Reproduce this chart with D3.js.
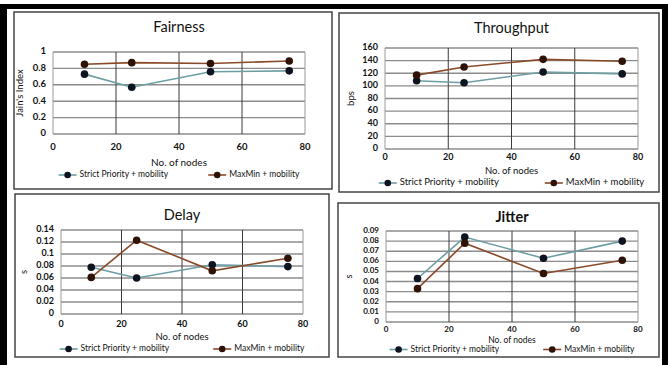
<!DOCTYPE html>
<html>
<head>
<meta charset="utf-8">
<script src="https://cdn.jsdelivr.net/npm/d3@7.9.0/dist/d3.min.js"></script>
<style>
  html, body { margin: 0; padding: 0; background: #fff; }
  svg { display: block; }
  text { font-family: Lato, "Liberation Sans", sans-serif; fill: #111; }
</style>
</head>
<body>
<svg id="chart" width="668" height="365"></svg>
<script>
// --- data
const nodes = [10, 25, 50, 75];
const seriesNames = ['Strict Priority + mobility', 'MaxMin + mobility'];

const fairnessStrict = [0.73, 0.57, 0.76, 0.77];
const fairnessMaxMin = [0.85, 0.87, 0.86, 0.89];

const throughputStrict = [108, 105, 122, 119];
const throughputMaxMin = [117, 130, 142, 139];

const delayStrict = [0.078, 0.060, 0.082, 0.079];
const delayMaxMin = [0.061, 0.123, 0.072, 0.093];

const jitterStrict = [0.043, 0.084, 0.063, 0.080];
const jitterMaxMin = [0.033, 0.078, 0.048, 0.061];

const xTicks = [0, 20, 40, 60, 80];
const fairnessTicks = [0, 0.2, 0.4, 0.6, 0.8, 1];
const throughputTicks = [0, 20, 40, 60, 80, 100, 120, 140, 160];
const delayTicks = [0, 0.02, 0.04, 0.06, 0.08, 0.1, 0.12, 0.14];
const jitterTicks = [0, 0.01, 0.02, 0.03, 0.04, 0.05, 0.06, 0.07, 0.08, 0.09];

// --- look
const lineColors = ['#6c9ea3', '#8a4a2a'];
const dotColors = ['#0d1420', '#2e1206'];

const svg = d3.select('#chart');

// outer scan frame
svg.append('rect').attr('x', 0).attr('y', 4).attr('width', 668).attr('height', 5).attr('fill', '#000');
svg.append('rect').attr('x', 0).attr('y', 4).attr('width', 7).attr('height', 361).attr('fill', '#000');
svg.append('rect').attr('x', 662).attr('y', 4).attr('width', 6).attr('height', 361).attr('fill', '#000');

// panel layout (box + plot area, in px)
const panels = [
  { title: 'Fairness', ylab: "Jain's Index", a: fairnessStrict, b: fairnessMaxMin, ticks: fairnessTicks,
    box: [14, 12, 332, 189], plot: [53, 52, 305, 134], ty: 28, lx: 21, xty: 148, xly: 163, lgy: 175, fs: 9.5, lfs: 8.5, lgap: 40 },
  { title: 'Throughput', ylab: 'bps', a: throughputStrict, b: throughputMaxMin, ticks: throughputTicks,
    box: [339, 13, 659, 192], plot: [385, 48, 638, 149], ty: 29, lx: 352, xty: 158, xly: 172, lgy: 183, fs: 9, lfs: 9.5, lgap: 46 },
  { title: 'Delay', ylab: 's', a: delayStrict, b: delayMaxMin, ticks: delayTicks,
    box: [15, 194, 329, 357], plot: [61, 230, 303, 314], ty: 216, lx: 25, xty: 325, xly: 338, lgy: 349, fs: 9, lfs: 8.5, lgap: 44 },
  { title: 'Jitter', ylab: 's', a: jitterStrict, b: jitterMaxMin, ticks: jitterTicks, bold: true,
    box: [338, 203, 659, 357], plot: [386, 231, 638, 322], ty: 218, lx: 350, xty: 329.5, xly: 340.5, lgy: 349.5, fs: 8, lfs: 8.5, lgap: 44 }
];

function drawPanel(p) {
  const [bx0, by0, bx1, by1] = p.box;
  const [px0, py0, px1, py1] = p.plot;
  const g = svg.append('g');

  g.append('rect')
    .attr('x', bx0).attr('y', by0).attr('width', bx1 - bx0).attr('height', by1 - by0)
    .attr('fill', '#fff').attr('stroke', '#444').attr('stroke-width', 1.5);

  const x = d3.scaleLinear().domain([0, 80]).range([px0, px1]);
  const y = d3.scaleLinear().domain([0, d3.max(p.ticks)]).range([py1, py0]);

  // horizontal gridlines
  g.append('g').selectAll('line').data(p.ticks).join('line')
    .attr('x1', px0).attr('x2', px1)
    .attr('y1', d => y(d)).attr('y2', d => y(d))
    .attr('stroke', '#8c8c8c').attr('stroke-width', 1.4);

  // vertical gridlines
  g.append('g').selectAll('line').data(xTicks).join('line')
    .attr('x1', d => x(d)).attr('x2', d => x(d))
    .attr('y1', py0).attr('y2', py1)
    .attr('stroke', d => (d === 0 || d === 80) ? '#9a9a9a' : '#3a3a3a').attr('stroke-width', 1);

  // tick labels
  g.append('g').selectAll('text').data(p.ticks).join('text')
    .attr('x', px0 - 7).attr('y', d => y(d))
    .attr('text-anchor', 'end').attr('dominant-baseline', 'middle')
    .attr('font-size', p.fs).attr('font-weight', 'bold')
    .text(d => d3.format('~g')(d));

  g.append('g').selectAll('text').data(xTicks).join('text')
    .attr('x', d => x(d)).attr('y', p.xty)
    .attr('text-anchor', 'middle').attr('dominant-baseline', 'middle')
    .attr('font-size', p.fs).attr('font-weight', 'bold')
    .text(d => d);

  // titles
  g.append('text').attr('x', (px0 + px1) / 2).attr('y', p.ty)
    .attr('text-anchor', 'middle').attr('dominant-baseline', 'middle')
    .attr('font-size', 14.5).attr('font-weight', p.bold ? 'bold' : 'normal').text(p.title);

  g.append('text').attr('x', (px0 + px1) / 2).attr('y', p.xly)
    .attr('text-anchor', 'middle').attr('dominant-baseline', 'middle')
    .attr('font-size', p.fs + 0.5).text('No. of nodes');

  g.append('text')
    .attr('transform', `translate(${p.lx},${(py0 + py1) / 2}) rotate(-90)`)
    .attr('text-anchor', 'middle').attr('dominant-baseline', 'middle')
    .attr('font-size', 9.5).text(p.ylab);

  // series
  const line = d3.line().x((d, i) => x(nodes[i])).y(d => y(d));
  [p.a, p.b].forEach((vals, k) => {
    g.append('path').datum(vals)
      .attr('d', line).attr('fill', 'none')
      .attr('stroke', lineColors[k]).attr('stroke-width', 1.6);
    g.append('g').selectAll('circle').data(vals).join('circle')
      .attr('cx', (d, i) => x(nodes[i])).attr('cy', d => y(d)).attr('r', 3.8)
      .attr('fill', dotColors[k]);
  });

  // legend
  const lg = g.append('g');
  let cx = 0;
  seriesNames.forEach((name, k) => {
    const item = lg.append('g').attr('transform', `translate(${cx},0)`);
    item.append('line').attr('x1', 0).attr('x2', 18).attr('y1', 0).attr('y2', 0)
      .attr('stroke', lineColors[k]).attr('stroke-width', 1.6);
    item.append('circle').attr('cx', 9).attr('cy', 0).attr('r', 3.3).attr('fill', dotColors[k]);
    const t = item.append('text').attr('x', 21).attr('y', 0)
      .attr('dominant-baseline', 'middle').attr('font-size', p.lfs).text(name);
    cx += 21 + t.node().getComputedTextLength() + p.lgap;
  });
  const lw = cx - p.lgap;
  lg.attr('transform', `translate(${(px0 + px1) / 2 - lw / 2},${p.lgy})`);
}

panels.forEach(drawPanel);
</script>
</body>
</html>
